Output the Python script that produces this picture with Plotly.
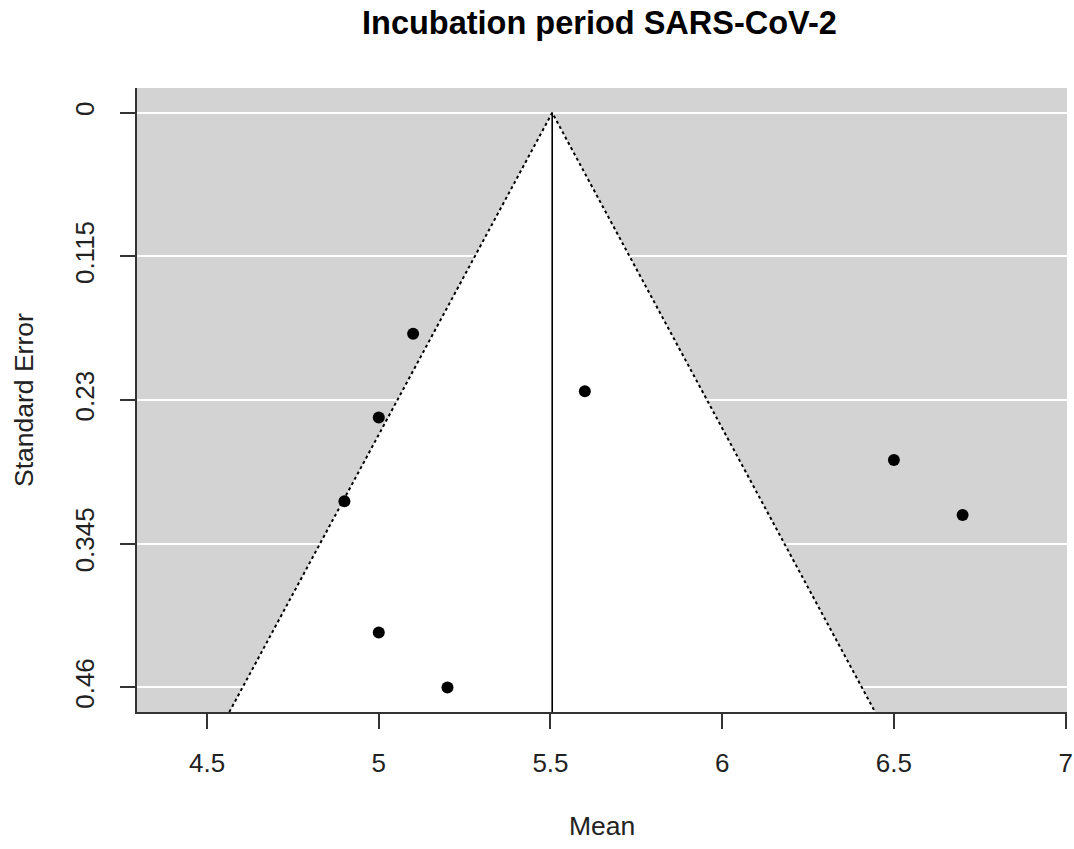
import plotly.graph_objects as go

# ---- data ----
means = [5.1, 5.6, 5.0, 4.9, 6.5, 6.7, 5.0, 5.2]
std_errors = [0.177, 0.223, 0.244, 0.311, 0.278, 0.322, 0.416, 0.460]
pooled_mean = 5.505
x_ticks = [4.5, 5, 5.5, 6, 6.5, 7]
x_tick_labels = ["4.5", "5", "5.5", "6", "6.5", "7"]
y_ticks = [0, 0.115, 0.23, 0.345, 0.46]
y_tick_labels = ["0", "0.115", "0.23", "0.345", "0.46"]
x_range = [4.296, 7.004]
y_range = [0.4797, -0.0198]
z = 1.96

se_lo = y_range[0]
left_x = pooled_mean - z * se_lo
right_x = pooled_mean + z * se_lo

FONT = "Liberation Sans, Arial, sans-serif"
AX = "#333333"

fig = go.Figure()

# white funnel region
fig.add_trace(go.Scatter(
    x=[left_x, pooled_mean, right_x, left_x],
    y=[se_lo, 0, se_lo, se_lo],
    mode="lines", fill="toself", fillcolor="white",
    line=dict(width=0, color="white"), hoverinfo="skip", showlegend=False))

# dotted funnel boundaries
fig.add_trace(go.Scatter(
    x=[left_x, pooled_mean, right_x],
    y=[se_lo, 0, se_lo],
    mode="lines", line=dict(color="black", width=2, dash="dot"),
    hoverinfo="skip", showlegend=False))

# centre line
fig.add_trace(go.Scatter(
    x=[pooled_mean, pooled_mean], y=[0, se_lo],
    mode="lines", line=dict(color="black", width=1.6),
    hoverinfo="skip", showlegend=False))

# studies
fig.add_trace(go.Scatter(
    x=means, y=std_errors, mode="markers",
    marker=dict(color="black", size=12, line=dict(width=0)),
    showlegend=False))

fig.update_layout(
    width=1074, height=849,
    margin=dict(l=137, r=7, t=88, b=137, autoexpand=False),
    paper_bgcolor="white", plot_bgcolor="#d3d3d3",
    font=dict(family=FONT, size=26, color="#222222"),
    showlegend=False,
)

fig.update_xaxes(
    range=x_range, tickmode="array", tickvals=x_ticks, ticktext=x_tick_labels,
    showgrid=False, zeroline=False,
    showline=True, linecolor=AX, linewidth=1.8,
    ticks="outside", ticklen=15, tickwidth=1.8, tickcolor=AX,
    ticklabelstandoff=12,
    tickfont=dict(family=FONT, size=26, color="#222222"))

fig.update_yaxes(
    range=y_range, tickmode="array", tickvals=y_ticks, ticktext=y_tick_labels,
    showgrid=True, gridcolor="white", gridwidth=1.5, zeroline=False,
    showline=True, linecolor=AX, linewidth=1.8,
    ticks="outside", ticklen=15, tickwidth=1.8, tickcolor=AX,
    tickangle=-90, ticklabelstandoff=16,
    tickfont=dict(family=FONT, size=26, color="#222222"))

fig.add_annotation(
    text="<b>Incubation period SARS-CoV-2</b>", xref="paper", yref="paper",
    x=0.4968, y=(712 - 23) / 624, xanchor="center", yanchor="middle",
    showarrow=False, font=dict(family=FONT, size=32.5, color="black"))
fig.add_annotation(
    text="Mean", xref="paper", yref="paper",
    x=0.5, y=(712 - 826) / 624, xanchor="center", yanchor="middle",
    showarrow=False, font=dict(family=FONT, size=26.5, color="#222222"))
fig.add_annotation(
    text="Standard Error", xref="paper", yref="paper",
    x=(24 - 137) / 930, y=0.5, xanchor="center", yanchor="middle",
    textangle=-90, showarrow=False,
    font=dict(family=FONT, size=26.5, color="#222222"))

fig.write_html(
    "out.html",
    config={"displayModeBar": False},
    post_script="document.body.style.margin='0';document.body.style.overflow='hidden';",
)
